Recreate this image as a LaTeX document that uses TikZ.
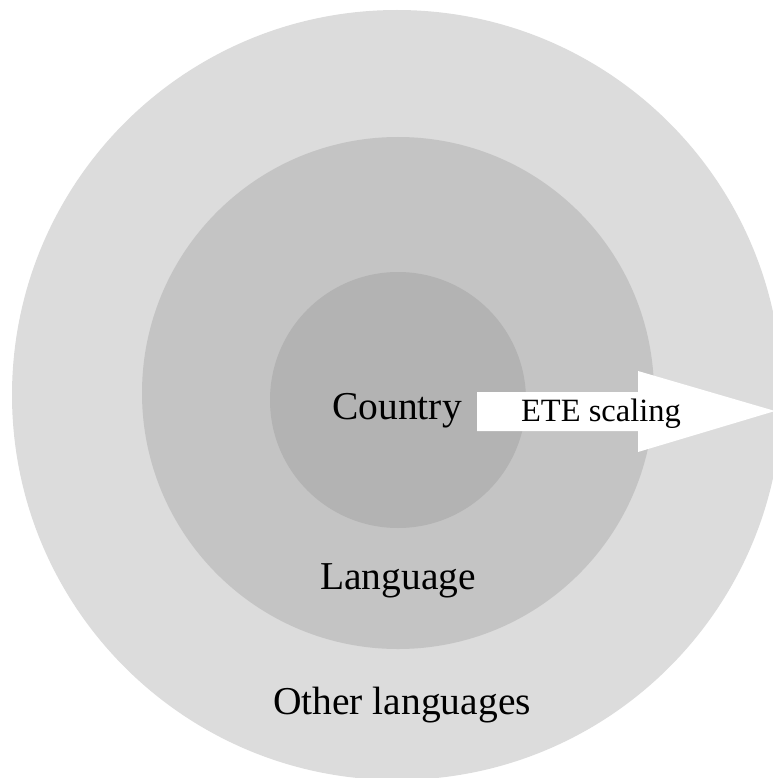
\documentclass[tikz,border=0pt]{standalone}
\usepackage{fontspec}
\setmainfont{Liberation Serif}
\definecolor{ringout}{gray}{0.863}
\definecolor{ringmid}{gray}{0.769}
\definecolor{ringin}{gray}{0.702}
\begin{document}
\begin{tikzpicture}[x=1pt,y=-1pt,
    label/.style={anchor=base,inner sep=0pt,font=\fontsize{39.5}{40}\selectfont},
    small/.style={anchor=base,inner sep=0pt,font=\fontsize{32.5}{34}\selectfont}]
          \useasboundingbox (0,0) rectangle (772,778);
          \fill[ringout] (397,395) circle (385);
          \fill[ringmid] (398,393) circle (256);
          \fill[ringin] (398,400) circle (128);
          \fill[white] (477,392) -- (638,392) -- (638,371) -- (775,411) -- (638,452) -- (638,431) -- (477,431) -- cycle;
          \node[label] (country) at (397,419) {Country};
          \node[small] (ete) at (601,421) {ETE scaling};
          \node[label] (lang) at (398,589) {Language};
          \node[label] (other) at (402,714) {Other languages};
        \end{tikzpicture}
\end{document}
